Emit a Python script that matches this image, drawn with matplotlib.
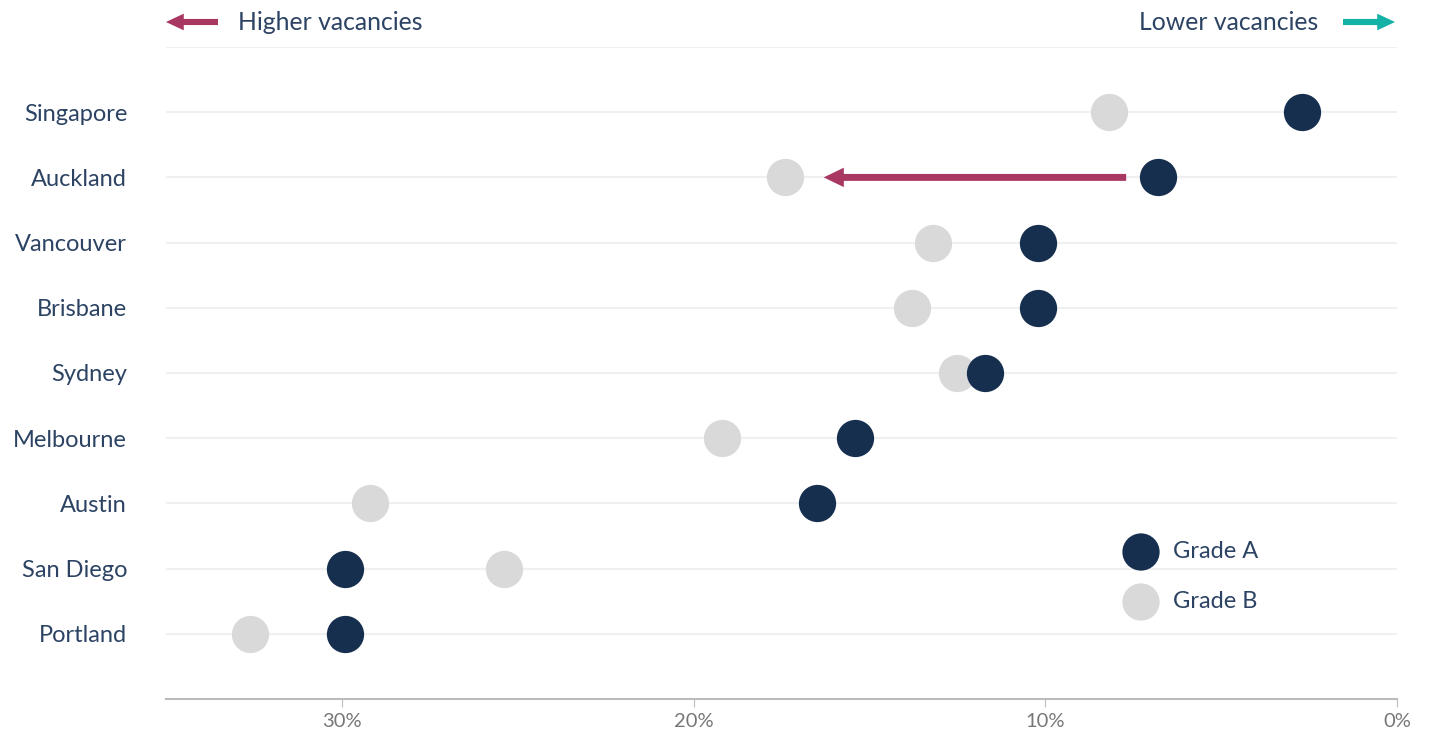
import matplotlib
matplotlib.use("Agg")
import matplotlib.pyplot as plt
from matplotlib.ticker import FuncFormatter

cities = ["Singapore", "Auckland", "Vancouver", "Brisbane", "Sydney",
          "Melbourne", "Austin", "San Diego", "Portland"]
grade_a = [2.7, 6.8, 10.2, 10.2, 11.7, 15.4, 16.5, 29.9, 29.9]
grade_b = [8.2, 17.4, 13.2, 13.8, 12.5, 19.2, 29.2, 25.4, 32.6]
arrow_city = "Auckland"
arrow_from, arrow_to = 7.7, 16.3
xticks = [30, 20, 10, 0]

NAVY = "#172f4f"
GREY = "#d9d9d9"
TEXT = "#2c4363"
RED = "#a83761"
TEAL = "#14b1a7"
MS = 720

plt.rcParams['font.family'] = ['Lato', 'DejaVu Sans']

fig = plt.figure(figsize=(14.29, 7.37), dpi=100)
ax = fig.add_axes([166/1429, 38/737, (1397-166)/1429, (699-47)/737])

ys = list(range(len(cities)))
ax.set_ylim(len(cities), -1)
ax.set_xlim(35, 0)

for y in ys + [-1]:
    ax.axhline(y, color="#f0f0f0", lw=1.5, zorder=0)

ax.scatter(grade_b, ys, s=MS, color=GREY, zorder=3, linewidths=0, label="Grade B")
ax.scatter(grade_a, ys, s=MS, color=NAVY, zorder=4, linewidths=0, label="Grade A")

ai = cities.index(arrow_city)
ax.annotate("", xy=(arrow_to, ai), xytext=(arrow_from, ai),
            arrowprops=dict(arrowstyle="simple,head_length=1.45,head_width=1.4,tail_width=0.5",
                            color=RED, lw=0, shrinkA=0, shrinkB=0, mutation_scale=10), zorder=5)

ax.set_yticks(ys)
ax.set_yticklabels(cities, fontsize=17, color=TEXT)
ax.set_xticks(xticks)
ax.xaxis.set_major_formatter(FuncFormatter(lambda v, p: f"{v:.0f}%"))
ax.tick_params(axis="x", colors="#777777", labelsize=14.5, length=6, color="#bbbbbb", pad=4)
ax.tick_params(axis="y", length=0, pad=28)
for s in ["top", "right", "left"]:
    ax.spines[s].set_visible(False)
ax.spines["bottom"].set_color("#bbbbbb")
ax.spines["bottom"].set_linewidth(1.5)

# overlay axes in pixel coordinates for legend and header
ov = fig.add_axes([0, 0, 1, 1], facecolor="none")
ov.set_xlim(0, 1429); ov.set_ylim(737, 0); ov.axis("off")

lx = 1141
ov.scatter([lx, lx], [552, 602], s=MS, color=[NAVY, GREY], linewidths=0)
for yy, lab in [(552, "Grade A"), (602, "Grade B")]:
    ov.text(1173, yy, lab, fontsize=17, color=TEXT, va="center", ha="left")

ov.text(238, 22, "Higher vacancies", fontsize=17.8, color=TEXT, va="center", ha="left")
ov.text(1318, 22, "Lower vacancies", fontsize=17.8, color=TEXT, va="center", ha="right")
ov.annotate("", xy=(166, 22), xytext=(218, 22),
            arrowprops=dict(arrowstyle="simple,head_length=1.6,head_width=1.5,tail_width=0.55",
                            color=RED, lw=0, shrinkA=0, shrinkB=0, mutation_scale=8))
ov.annotate("", xy=(1395, 22), xytext=(1343, 22),
            arrowprops=dict(arrowstyle="simple,head_length=1.6,head_width=1.5,tail_width=0.55",
                            color=TEAL, lw=0, shrinkA=0, shrinkB=0, mutation_scale=8))

fig.savefig("out.png", dpi=100, facecolor="white")
